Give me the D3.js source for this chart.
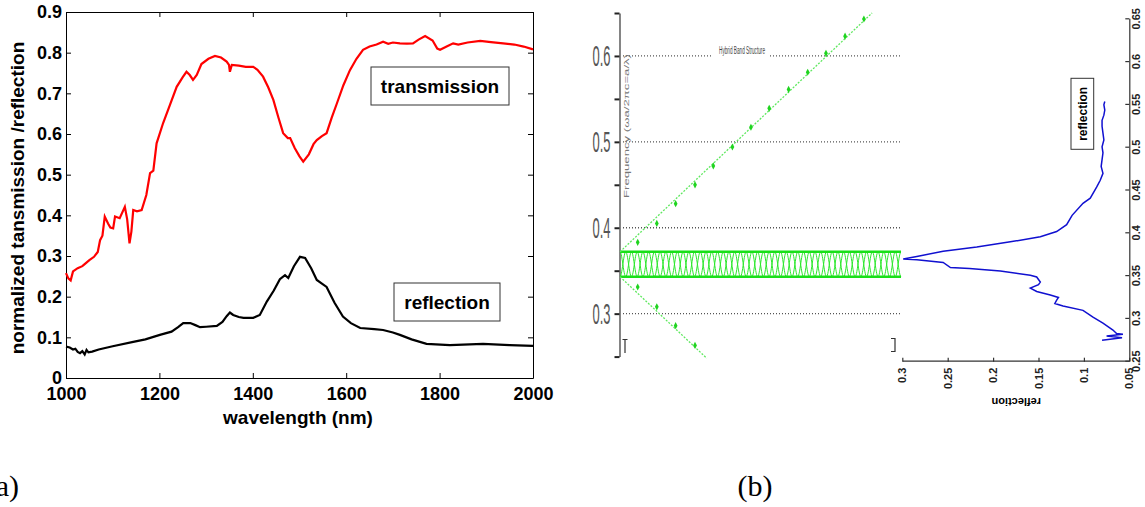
<!DOCTYPE html>
<html>
<head>
<meta charset="utf-8">
<script src="https://cdn.jsdelivr.net/npm/d3@7"></script>
<style>
    body { margin: 0; background: #fff; }
    svg { display: block; }
</style>
</head>
<body>
<svg id="fig" width="1145" height="507"></svg>
<script>
// panel (a): measured spectra
var wlTicks = [1000, 1200, 1400, 1600, 1800, 2000];
var valTicks = [0, 0.1, 0.2, 0.3, 0.4, 0.5, 0.6, 0.7, 0.8, 0.9];

var transWl = [1000, 1005, 1010, 1015, 1025, 1035, 1040, 1050, 1060, 1068, 1073, 1078, 1083, 1090, 1095, 1101, 1105,
    1115, 1126, 1131, 1136, 1140, 1144, 1152, 1162, 1172, 1180, 1187, 1194, 1208, 1222, 1237, 1250, 1258, 1265,
    1272, 1280, 1290, 1305, 1319, 1332, 1344, 1349, 1351, 1355, 1370, 1385, 1401, 1410, 1422, 1433, 1444, 1455,
    1465, 1475, 1480, 1490, 1500, 1508, 1520, 1530, 1537, 1548, 1558, 1569, 1580, 1594, 1608, 1622, 1636, 1650,
    1665, 1679, 1690, 1700, 1715, 1730, 1743, 1755, 1769, 1785, 1795, 1801, 1815, 1829, 1840, 1860, 1887, 1910,
    1936, 1960, 1980, 2000];
var transVal = [0.258, 0.245, 0.24, 0.262, 0.27, 0.275, 0.28, 0.29, 0.298, 0.31, 0.339, 0.35, 0.397, 0.38, 0.37,
    0.368, 0.397, 0.393, 0.421, 0.39, 0.331, 0.36, 0.413, 0.41, 0.413, 0.45, 0.504, 0.51, 0.577, 0.627, 0.67, 0.716,
    0.74, 0.753, 0.745, 0.733, 0.745, 0.772, 0.785, 0.792, 0.788, 0.778, 0.77, 0.753, 0.77, 0.768, 0.765, 0.765,
    0.758, 0.741, 0.715, 0.684, 0.64, 0.602, 0.59, 0.59, 0.565, 0.545, 0.532, 0.55, 0.575, 0.585, 0.595, 0.602,
    0.64, 0.675, 0.72, 0.757, 0.785, 0.807, 0.815, 0.82, 0.827, 0.822, 0.825, 0.823, 0.822, 0.823, 0.832, 0.841,
    0.83, 0.81, 0.807, 0.815, 0.823, 0.82, 0.825, 0.829, 0.826, 0.823, 0.82, 0.815, 0.808];

var reflWl = [1000, 1008, 1015, 1020, 1025, 1030, 1035, 1040, 1044, 1048, 1056, 1070, 1100, 1144, 1170, 1201, 1226,
    1240, 1251, 1266, 1277, 1287, 1300, 1323, 1335, 1344, 1351, 1358, 1370, 1380, 1401, 1415, 1430, 1445, 1458,
    1469, 1476, 1488, 1501, 1512, 1525, 1537, 1548, 1558, 1575, 1593, 1610, 1630, 1660, 1679, 1700, 1715, 1740,
    1772, 1822, 1893, 1950, 2000];
var reflVal = [0.077, 0.075, 0.07, 0.072, 0.064, 0.061, 0.066, 0.058, 0.069, 0.063, 0.065, 0.07, 0.078, 0.089,
    0.095, 0.106, 0.114, 0.125, 0.135, 0.135, 0.13, 0.125, 0.126, 0.128, 0.138, 0.152, 0.161, 0.155, 0.15, 0.148,
    0.148, 0.155, 0.188, 0.215, 0.243, 0.253, 0.246, 0.275, 0.298, 0.295, 0.27, 0.241, 0.232, 0.224, 0.185, 0.151,
    0.135, 0.123, 0.12, 0.118, 0.112, 0.106, 0.095, 0.084, 0.081, 0.084, 0.081, 0.079];

// panel (b) left: band structure
var freqTicks = [0.25, 0.3, 0.35, 0.4, 0.45, 0.5, 0.55, 0.6, 0.65];
var gridFreq = [0.3, 0.4, 0.5, 0.6];
var upperLight = [[0, 0.372], [0.897, 0.650]];
var lowerLight = [[0, 0.343], [0.309, 0.248]];
var upperMarks = [[0.063, 0.383], [0.131, 0.405], [0.198, 0.428], [0.267, 0.450], [0.332, 0.472], [0.400, 0.494],
    [0.466, 0.517], [0.531, 0.539], [0.600, 0.561], [0.668, 0.581], [0.733, 0.603], [0.801, 0.623], [0.868, 0.643]];
var lowerMarks = [[0.063, 0.331], [0.131, 0.308], [0.198, 0.286], [0.267, 0.263]];
var bandEdges = [0.343, 0.372];
var bandPeriods = 24.5;

// panel (b) right: reflection vs frequency (drawn rotated)
var specFreq = [0.275, 0.278, 0.280, 0.282, 0.283, 0.287, 0.295, 0.302, 0.310, 0.315, 0.318, 0.322, 0.325, 0.328,
    0.332, 0.336, 0.340, 0.343, 0.349, 0.351, 0.356, 0.359, 0.360, 0.366, 0.369, 0.370, 0.373, 0.379, 0.384, 0.390,
    0.396, 0.402, 0.410, 0.421, 0.435, 0.441, 0.454, 0.462, 0.470, 0.478, 0.486, 0.494, 0.501, 0.509, 0.517, 0.525,
    0.532, 0.538, 0.544, 0.550, 0.554];
var specRefl = [0.080, 0.058, 0.075, 0.057, 0.064, 0.068, 0.079, 0.090, 0.101, 0.123, 0.132, 0.130, 0.128, 0.137,
    0.152, 0.159, 0.150, 0.148, 0.152, 0.159, 0.192, 0.226, 0.247, 0.255, 0.284, 0.299, 0.284, 0.255, 0.218, 0.181,
    0.148, 0.130, 0.119, 0.113, 0.101, 0.093, 0.086, 0.082, 0.079, 0.081, 0.080, 0.079, 0.080, 0.078, 0.079, 0.080,
    0.080, 0.078, 0.077, 0.078, 0.077];
var specTicks = [0.25, 0.3, 0.35, 0.4, 0.45, 0.5, 0.55, 0.6, 0.65];
var reflTicks = [0.05, 0.1, 0.15, 0.2, 0.25, 0.3];

var svg = d3.select('#fig');
var sans = '"Liberation Sans", Arial, sans-serif';
var fmt = d => String(+d.toFixed(2));

// ---------- panel (a) ----------
var x = d3.scaleLinear().domain([1000, 2000]).range([66, 533]);
var y = d3.scaleLinear().domain([0, 0.9]).range([378, 12]);

var ga = svg.append('g');

function styleAxis(g, size) {
    g.selectAll('path, line').attr('stroke', '#000').attr('stroke-width', 1);
    g.selectAll('text').attr('font-family', sans).attr('font-weight', 'bold')
        .attr('font-size', size).attr('fill', '#000');
}

ga.append('g').attr('transform', 'translate(0,378)')
    .call(d3.axisBottom(x).tickValues(wlTicks).tickFormat(d3.format('d'))
        .tickSizeInner(-5).tickSizeOuter(0).tickPadding(9))
    .call(styleAxis, 18);
ga.append('g').attr('transform', 'translate(0,12)')
    .call(d3.axisTop(x).tickValues(wlTicks).tickFormat('').tickSizeInner(-5).tickSizeOuter(0))
    .call(styleAxis, 18);
ga.append('g').attr('transform', 'translate(66,0)')
    .call(d3.axisLeft(y).tickValues(valTicks).tickFormat(d => d === 0 ? '0' : d.toFixed(1))
        .tickSizeInner(-5).tickSizeOuter(0).tickPadding(4))
    .call(styleAxis, 18);
ga.append('g').attr('transform', 'translate(533,0)')
    .call(d3.axisRight(y).tickValues(valTicks).tickFormat('').tickSizeInner(-5).tickSizeOuter(0))
    .call(styleAxis, 18);

var lineA = d3.line().x(d => x(d[0])).y(d => y(d[1]));

ga.append('path')
    .datum(d3.zip(reflWl, reflVal))
    .attr('d', lineA)
    .attr('fill', 'none').attr('stroke', '#000').attr('stroke-width', 2.2);
ga.append('path')
    .datum(d3.zip(transWl, transVal))
    .attr('d', lineA)
    .attr('fill', 'none').attr('stroke', '#ff0000').attr('stroke-width', 2.2);

ga.append('text')
    .attr('transform', 'translate(24,198) rotate(-90)')
    .attr('text-anchor', 'middle')
    .attr('font-family', sans).attr('font-weight', 'bold').attr('font-size', 19)
    .text('normalized tansmission /reflection');
ga.append('text')
    .attr('x', 298).attr('y', 424)
    .attr('text-anchor', 'middle')
    .attr('font-family', sans).attr('font-weight', 'bold').attr('font-size', 19)
    .text('wavelength (nm)');

function labelBox(g, x0, y0, w, h, txt, size) {
    g.append('rect').attr('x', x0).attr('y', y0).attr('width', w).attr('height', h)
        .attr('fill', '#fff').attr('stroke', '#333').attr('stroke-width', 1);
    g.append('text')
        .attr('x', x0 + w / 2).attr('y', y0 + h / 2).attr('dy', '0.36em')
        .attr('text-anchor', 'middle')
        .attr('font-family', sans).attr('font-weight', 'bold').attr('font-size', size)
        .text(txt);
}
labelBox(ga, 371, 67, 138, 38, 'transmission', 19);
labelBox(ga, 394, 283, 106, 38, 'reflection', 19);

// ---------- panel (b), band structure ----------
var kx = d3.scaleLinear().domain([0, 1]).range([620, 901]);
var fy = d3.scaleLinear().domain([0.25, 0.65]).range([356.6, 13]);

var gb = svg.append('g');

var axB = gb.append('g').attr('transform', 'translate(619.5,0)')
    .call(d3.axisLeft(fy).tickValues(freqTicks)
        .tickFormat(d => gridFreq.some(g => Math.abs(g - d) < 1e-6) ? d.toFixed(1) : '')
        .tickSizeInner(5).tickSizeOuter(0).tickPadding(4));
axB.select('.domain').attr('stroke', '#333').attr('stroke-width', 1.2);
axB.selectAll('line').attr('stroke', '#222').attr('stroke-width', 2);
axB.selectAll('text')
    .attr('font-family', sans).attr('font-size', 30).attr('fill', '#555')
    .attr('textLength', 18).attr('lengthAdjust', 'spacingAndGlyphs');

gb.selectAll('line.grid').data(gridFreq).enter().append('line')
    .attr('class', 'grid')
    .attr('x1', 623).attr('x2', 902)
    .attr('y1', d => fy(d)).attr('y2', d => fy(d))
    .attr('stroke', '#555').attr('stroke-width', 1.3).attr('stroke-dasharray', '1,2');

gb.append('rect').attr('x', 713).attr('y', 43).attr('width', 57).attr('height', 16).attr('fill', '#fff');
gb.append('text')
    .attr('x', 742).attr('y', 54).attr('text-anchor', 'middle')
    .attr('font-family', sans).attr('font-size', 10).attr('fill', '#444')
    .attr('textLength', 46).attr('lengthAdjust', 'spacingAndGlyphs')
    .text('Hybrid Band Structure');
gb.append('text')
    .attr('transform', 'translate(629,126) rotate(-90)')
    .attr('text-anchor', 'middle')
    .attr('font-family', sans).attr('font-size', 8).attr('fill', '#777')
    .attr('textLength', 144).attr('lengthAdjust', 'spacingAndGlyphs')
    .text('Frequency (\u03c9a/2\u03c0c=a/\u03bb)');

// folded bands inside the gap region
var bandMid = (fy(bandEdges[0]) + fy(bandEdges[1])) / 2;
var bandHalf = (fy(bandEdges[0]) - fy(bandEdges[1])) / 2;
var kSteps = d3.range(0, 1.0001, 0.0015);
[1, -1].forEach(function(sign) {
    gb.append('path')
        .datum(kSteps)
        .attr('d', d3.line()
            .x(k => kx(k))
            .y(k => bandMid + sign * bandHalf * Math.cos(2 * Math.PI * bandPeriods * k)))
        .attr('fill', 'none').attr('stroke', '#2be82b').attr('stroke-width', 1);
});
gb.selectAll('line.edge').data(bandEdges).enter().append('line')
    .attr('class', 'edge')
    .attr('x1', kx(0)).attr('x2', kx(1))
    .attr('y1', d => fy(d)).attr('y2', d => fy(d))
    .attr('stroke', '#18e018').attr('stroke-width', 2.6);

var lineB = d3.line().x(d => kx(d[0])).y(d => fy(d[1]));
[upperLight, lowerLight].forEach(function(seg) {
    gb.append('path').datum(seg).attr('d', lineB)
        .attr('fill', 'none').attr('stroke', '#5fe85f').attr('stroke-width', 1.3)
        .attr('stroke-dasharray', '2,1.5');
});
gb.selectAll('path.mark').data(upperMarks.concat(lowerMarks)).enter().append('path')
    .attr('class', 'mark')
    .attr('transform', d => 'translate(' + kx(d[0]) + ',' + fy(d[1]) + ')')
    .attr('d', 'M0,-3.6L1.9,0L0,3.6L-1.9,0Z')
    .attr('fill', '#1fd41f');

// small stray marks
gb.append('path').attr('d', 'M622.5,339.5H627.5M625,339.5V353')
    .attr('fill', 'none').attr('stroke', '#333').attr('stroke-width', 1.2);
gb.append('path').attr('d', 'M891,338.5H895V351.5H891')
    .attr('fill', 'none').attr('stroke', '#333').attr('stroke-width', 1.2);

// ---------- panel (b), rotated reflection plot ----------
var fx = d3.scaleLinear().domain([0.25, 0.65]).range([0, 342.4]);
var ry = d3.scaleLinear().domain([0.05, 0.3]).range([227, 0]);

var gr = svg.append('g').attr('transform', 'translate(902.3,361.7) rotate(-90)');

function styleSmall(g) {
    g.selectAll('path, line').attr('stroke', '#333').attr('stroke-width', 1.2);
    g.selectAll('text').attr('font-family', sans).attr('font-weight', 'bold')
        .attr('font-size', 11).attr('fill', '#222');
}
gr.append('g').attr('transform', 'translate(0,227)')
    .call(d3.axisBottom(fx).tickValues(specTicks).tickFormat(fmt)
        .tickSizeInner(-4).tickSizeOuter(0).tickPadding(3))
    .call(styleSmall);
gr.append('g')
    .call(d3.axisLeft(ry).tickValues(reflTicks).tickFormat(fmt)
        .tickSizeInner(-4).tickSizeOuter(0).tickPadding(6))
    .call(styleSmall);

gr.append('path')
    .datum(d3.zip(specFreq, specRefl))
    .attr('d', d3.line().x(d => fx(d[0])).y(d => ry(d[1])))
    .attr('fill', 'none').attr('stroke', '#1010d0').attr('stroke-width', 1.5);

gr.append('text')
    .attr('transform', 'translate(-40,114) rotate(-90)')
    .attr('text-anchor', 'middle').attr('dy', '0.35em')
    .attr('font-family', sans).attr('font-weight', 'bold').attr('font-size', 11)
    .text('reflection');

gr.append('rect').attr('x', 212.4).attr('y', 168.7).attr('width', 71).attr('height', 22.7)
    .attr('fill', '#fff').attr('stroke', '#333').attr('stroke-width', 1);
gr.append('text')
    .attr('x', 247.9).attr('y', 180).attr('dy', '0.36em')
    .attr('text-anchor', 'middle')
    .attr('font-family', sans).attr('font-weight', 'bold').attr('font-size', 12)
    .text('reflection');

// ---------- panel captions ----------
svg.append('text').attr('x', 19).attr('y', 496).attr('text-anchor', 'end')
    .attr('font-family', '"Liberation Serif", "Times New Roman", serif').attr('font-size', 30)
    .text('(a)');
svg.append('text').attr('x', 755).attr('y', 496).attr('text-anchor', 'middle')
    .attr('font-family', '"Liberation Serif", "Times New Roman", serif').attr('font-size', 30)
    .text('(b)');
</script>
</body>
</html>
